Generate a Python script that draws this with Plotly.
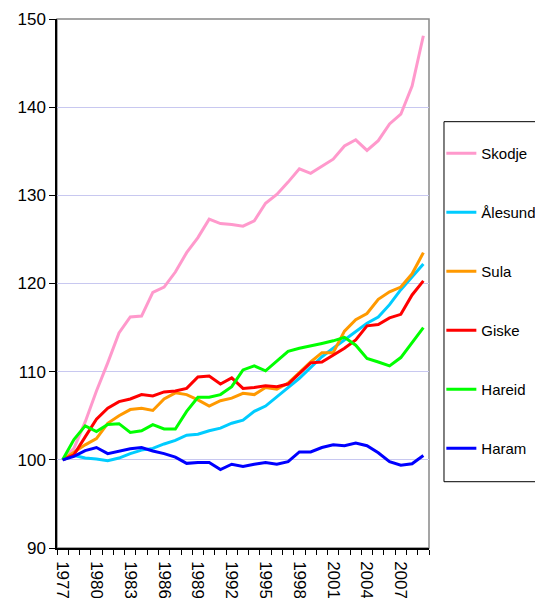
import plotly.graph_objects as go

years = list(range(1977, 2010))

skodje = [100, 101.3, 104.3, 107.8, 111.0, 114.4, 116.2, 116.3, 119.0, 119.6, 121.3,
          123.5, 125.2, 127.3, 126.8, 126.7, 126.5, 127.1, 129.1, 130.1, 131.5, 133.0,
          132.5, 133.3, 134.1, 135.6, 136.3, 135.1, 136.2, 138.1, 139.2, 142.4, 148.1]
alesund = [100, 100.5, 100.2, 100.1, 99.9, 100.2, 100.7, 101.1, 101.3, 101.8, 102.2,
           102.8, 102.9, 103.3, 103.6, 104.15, 104.5, 105.5, 106.1, 107.1, 108.2, 109.25,
           110.5, 111.7, 112.65, 113.6, 114.65, 115.5, 116.2, 117.6, 119.3, 120.8, 122.2]
sula = [100, 100.9, 101.7, 102.4, 104.15, 105.0, 105.7, 105.85, 105.6, 106.9, 107.6,
        107.4, 106.8, 106.1, 106.7, 107.0, 107.55, 107.4, 108.2, 108.0, 108.7, 109.9,
        111.1, 112.15, 112.15, 114.6, 115.9, 116.6, 118.2, 119.06, 119.6, 121.1, 123.5]
giske = [100, 100.57, 102.6, 104.6, 105.85, 106.6, 106.9, 107.4, 107.25, 107.7, 107.8,
         108.1, 109.4, 109.5, 108.6, 109.3, 108.1, 108.2, 108.4, 108.3, 108.6, 109.8,
         111.0, 111.1, 111.9, 112.65, 113.6, 115.2, 115.35, 116.1, 116.5, 118.7, 120.3]
hareid = [100, 102.3, 103.85, 103.2, 104.0, 104.1, 103.1, 103.3, 104.0, 103.5, 103.5,
          105.5, 107.1, 107.1, 107.4, 108.3, 110.2, 110.65, 110.1, 111.2, 112.3, 112.65,
          112.9, 113.2, 113.5, 113.9, 113.0, 111.5, 111.1, 110.65, 111.6, 113.3, 115.0]
haram = [100, 100.4, 101.05, 101.4, 100.7, 101.0, 101.25, 101.4, 101.0, 100.7, 100.3,
         99.6, 99.7, 99.7, 98.9, 99.5, 99.25, 99.5, 99.7, 99.5, 99.8, 100.9,
         100.9, 101.4, 101.7, 101.6, 101.9, 101.6, 100.8, 99.8, 99.4, 99.55, 100.5]

names = ["Skodje", "Ålesund", "Sula", "Giske", "Hareid", "Haram"]
series = [skodje, alesund, sula, giske, hareid, haram]
colors = ["#ff99cc", "#00ccff", "#ff9900", "#ff0000", "#00ff00", "#0000ff"]

font = "Arial, Liberation Sans, sans-serif"

fig = go.Figure()
for name, vals, col in zip(names, series, colors):
    fig.add_trace(go.Scatter(x=years, y=vals, name=name, mode="lines",
                             line=dict(color=col, width=3), legendgroup=name))

# gray frame on top/right, black axes on left/bottom
fig.add_shape(type="rect", xref="paper", yref="paper", x0=0, x1=1, y0=0, y1=1,
              line=dict(color="#888888", width=1.5), layer="below")
# legend box
fig.add_shape(type="rect", xref="paper", yref="paper", x0=1.0403, x1=1.3024,
              y0=0.1253, y1=0.8059, line=dict(color="black", width=1))

fig.update_layout(
    width=535, height=590,
    margin=dict(l=49, r=114, t=11, b=50),
    paper_bgcolor="white", plot_bgcolor="white",
    font=dict(family=font, size=17, color="black"),
    showlegend=True,
    legend=dict(xref="container", yref="container", x=0.81, xanchor="left",
                y=0.5036, yanchor="middle", maxheight=560,
                borderwidth=0, font=dict(size=15), bgcolor="rgba(0,0,0,0)",
                tracegroupgap=36.5, itemwidth=30, traceorder="grouped"),
    xaxis=dict(range=[1976.5, 2009.5], tickmode="array", automargin=False,
               tickvals=years[::3], ticktext=[str(y) for y in years[::3]],
               tickangle=90, ticks="outside", ticklen=8, tickcolor="rgba(0,0,0,0)",
               showgrid=False, zeroline=False, showline=True, linecolor="black",
               linewidth=1.5,
               minor=dict(tickmode="linear", tick0=1976.5, dtick=1, ticks="outside",
                          ticklen=5, tickcolor="black", showgrid=False)),
    yaxis=dict(range=[90, 150], dtick=10, ticks="outside", ticklen=6, automargin=False,
               tickcolor="black", showgrid=True, gridcolor="#c8c8f0", gridwidth=1,
               zeroline=False, showline=True, linecolor="black", linewidth=1.5),
)

fig.write_html("out.html")
